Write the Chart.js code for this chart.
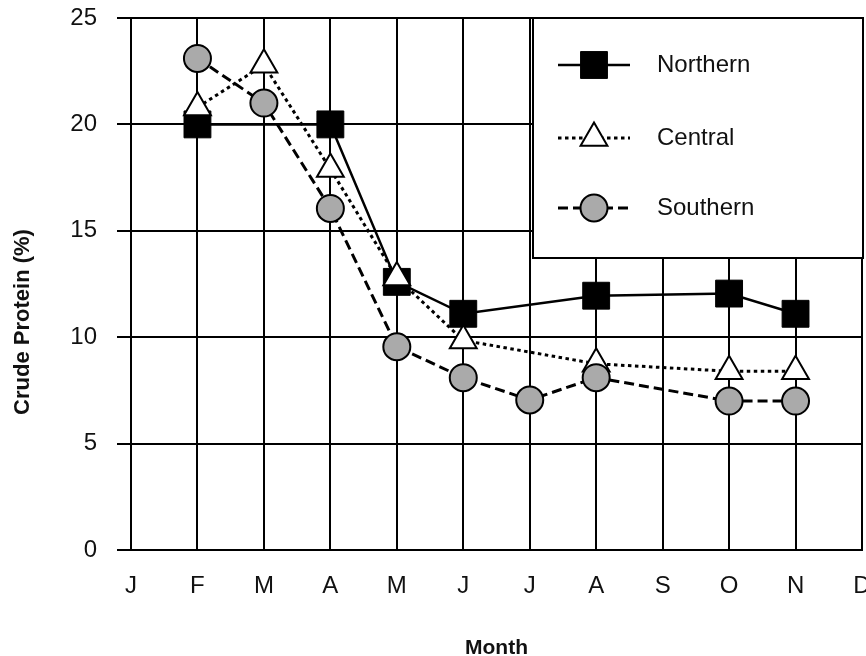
<!DOCTYPE html>
<html>
<head>
    <title>Crude Protein by Month</title>
    <script src="https://cdn.jsdelivr.net/npm/chart.js"></script>
    <style>
        html, body { margin: 0; padding: 0; background: #fff; }
        .wrap { width: 866px; height: 656px; }
    </style>
</head>
<body>
    <div class="wrap">
        <canvas id="proteinChart" width="866" height="656"></canvas>
    </div>

<script>
    // Данные
    const months = ['J', 'F', 'M', 'A', 'M', 'J', 'J', 'A', 'S', 'O', 'N', 'D'];
    const northern = [null, 20, null, 20, 12.6, 11.1, null, 11.95, null, 12.05, 11.1, null];
    const central = [null, 20.8, 22.8, 17.9, 12.8, 9.85, null, 8.75, null, 8.4, 8.4, null];
    const southern = [null, 23.1, 21.0, 16.05, 9.55, 8.1, 7.05, 8.1, null, 7.0, 7.0, null];
    const yTicks = [0, 5, 10, 15, 20, 25];

    const FONT = "'Liberation Sans', Arial, sans-serif";

    // Рамка легенды в правом верхнем углу + подпись оси Y
    const boxLegend = {
        id: 'boxLegend',
        afterDatasetsDraw(chart) {
            const ctx = chart.ctx;
            const area = chart.chartArea;
            const x0 = 533, y0 = area.top, x1 = area.right + 1, y1 = 258;
            ctx.save();
            ctx.fillStyle = '#fff';
            ctx.fillRect(x0, y0, x1 - x0, y1 - y0);
            ctx.lineWidth = 2;
            ctx.strokeStyle = '#000';
            ctx.strokeRect(x0, y0, x1 - x0, y1 - y0);

            const rows = [65, 138, 208];
            chart.data.datasets.forEach((ds, i) => {
                const y = rows[i];
                ctx.save();
                ctx.strokeStyle = ds.borderColor;
                ctx.lineWidth = ds.borderWidth;
                ctx.setLineDash(ds.borderDash || []);
                ctx.beginPath();
                ctx.moveTo(558, y);
                ctx.lineTo(630, y);
                ctx.stroke();
                ctx.setLineDash([]);
                ctx.fillStyle = ds.pointBackgroundColor;
                ctx.strokeStyle = ds.pointBorderColor;
                ctx.lineWidth = ds.pointBorderWidth;
                Chart.helpers.drawPoint(ctx, {
                    pointStyle: ds.pointStyle,
                    radius: ds.pointRadius,
                    borderWidth: ds.pointBorderWidth,
                    rotation: 0
                }, 594, y);
                ctx.restore();

                ctx.fillStyle = '#111';
                ctx.font = '24px ' + FONT;
                ctx.textAlign = 'left';
                ctx.textBaseline = 'middle';
                ctx.fillText(ds.label, 657, y);
            });

            // подпись оси Y
            ctx.translate(23, 322);
            ctx.rotate(-Math.PI / 2);
            ctx.font = 'bold 22px ' + FONT;
            ctx.fillStyle = '#111';
            ctx.textAlign = 'center';
            ctx.textBaseline = 'middle';
            ctx.fillText('Crude Protein (%)', 0, 0);
            ctx.restore();
        }
    };

    new Chart(document.getElementById('proteinChart'), {
        type: 'line',
        data: {
            labels: months,
            datasets: [{
                label: 'Northern',
                data: northern,
                borderColor: '#000',
                borderWidth: 2.5,
                pointStyle: 'rect',
                pointRadius: 19,
                pointBackgroundColor: '#000',
                pointBorderColor: '#000',
                pointBorderWidth: 1,
                spanGaps: true,
                order: 3,
                clip: false
            },
            {
                label: 'Central',
                data: central,
                borderColor: '#000',
                borderWidth: 3,
                borderDash: [3.5, 3.5],
                pointStyle: 'triangle',
                pointRadius: 15.5,
                pointBackgroundColor: '#fff',
                pointBorderColor: '#000',
                pointBorderWidth: 2,
                spanGaps: true,
                order: 2,
                clip: false
            },
            {
                label: 'Southern',
                data: southern,
                borderColor: '#000',
                borderWidth: 3,
                borderDash: [10, 5],
                pointStyle: 'circle',
                pointRadius: 13.5,
                pointBackgroundColor: '#aaaaaa',
                pointBorderColor: '#000',
                pointBorderWidth: 2,
                spanGaps: true,
                order: 1,
                clip: false
            }]
        },
        options: {
            responsive: false,
            animation: false,
            events: [],
            layout: { autoPadding: false, padding: { top: 18, right: 4, left: 0, bottom: 0 } },
            plugins: {
                legend: { display: false },
                tooltip: { enabled: false }
            },
            scales: {
                x: {
                    type: 'category',
                    offset: false,
                    grid: { color: '#000', lineWidth: 2, drawTicks: false },
                    border: { color: '#000', width: 2 },
                    ticks: {
                        autoSkip: false,
                        maxRotation: 0,
                        padding: 22,
                        color: '#111',
                        font: { family: FONT, size: 24 }
                    },
                    title: {
                        display: true,
                        text: 'Month',
                        color: '#111',
                        font: { family: FONT, size: 21, weight: 'bold', lineHeight: 0.7 },
                        padding: { top: 0, bottom: 0 }
                    },
                    afterFit(scale) {
                        scale.height = 106;
                        scale.paddingLeft = 0;
                        scale.paddingRight = 0;
                    }
                },
                y: {
                    min: 0,
                    max: 25,
                    grid: { color: '#000', lineWidth: 2, tickLength: 14 },
                    border: { color: '#000', width: 2 },
                    afterBuildTicks(scale) {
                        scale.ticks = yTicks.map(v => ({ value: v }));
                    },
                    ticks: {
                        padding: 20,
                        color: '#111',
                        font: { family: FONT, size: 24 }
                    },
                    afterFit(scale) {
                        scale.width = 131;
                        scale.paddingTop = 0;
                        scale.paddingBottom = 0;
                    }
                }
            }
        },
        plugins: [boxLegend]
    });
</script>
</body>
</html>
